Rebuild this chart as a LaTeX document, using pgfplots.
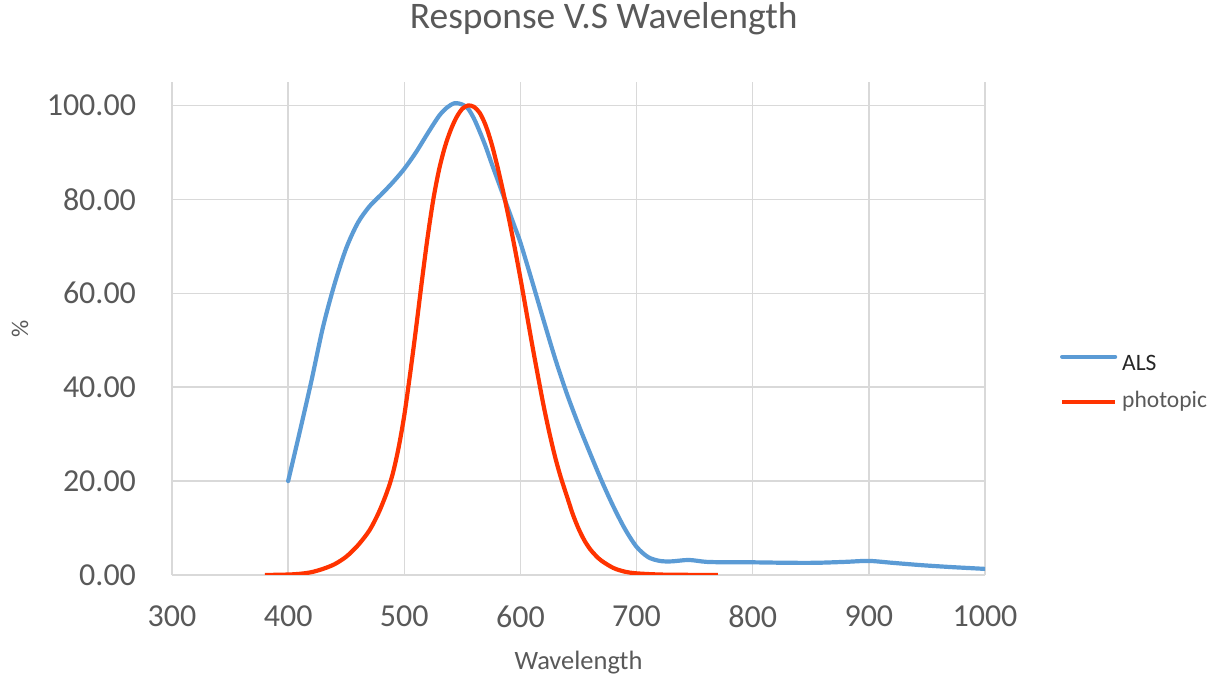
\documentclass[border=0pt]{standalone}
\usepackage{fontspec}
\setmainfont{Carlito}
\usepackage{pgfplots}
\pgfplotsset{compat=1.18}

\definecolor{alsblue}{HTML}{5B9BD5}
\definecolor{photored}{HTML}{FF3300}
\definecolor{txtgray}{HTML}{595959}
\definecolor{gridgray}{HTML}{D9D9D9}

\begin{document}
\begin{tikzpicture}[x=1pt,y=1pt]
\useasboundingbox (0,0) rectangle (1217,679);
\begin{axis}[
    at={(172pt,104pt)}, anchor=south west,
    scale only axis, width=813pt, height=493pt,
    xmin=300, xmax=1000, ymin=0, ymax=105,
    xtick={300,400,...,1000}, ytick={0,20,...,100},
    axis lines=left,
    axis line style={draw=gridgray, line width=1.5pt, -},
    grid=major,
    major grid style={draw=gridgray, line width=1.5pt},
    major tick length=0pt,
    /pgf/number format/assume math mode=true,
    tick label style={font=\fontsize{32}{38}\selectfont, text=txtgray},
    xticklabel style={/pgf/number format/1000 sep={}, yshift=-27pt},
    yticklabel style={/pgf/number format/fixed, /pgf/number format/fixed zerofill,
        /pgf/number format/precision=2, xshift=-32.5pt},
    title={Response V.S Wavelength},
    title style={at={(axis description cs:0.531,1)}, anchor=base, yshift=47pt,
        font=\fontsize{37.5}{45}\selectfont, text=txtgray},
    xlabel={Wavelength},
    xlabel style={at={(axis description cs:0.5,0)}, anchor=base, yshift=-95pt,
        font=\fontsize{26.5}{32}\selectfont, text=txtgray},
    ylabel={\%},
    ylabel style={at={(axis description cs:-0.187,0.5)}, anchor=center,
        font=\fontsize{24}{29}\selectfont, text=txtgray},
    legend cell align=left,
    legend image code/.code={\draw[#1] (0pt,0pt) -- (53pt,0pt);},
    legend style={at={(axis description cs:1.0923,0.464)}, anchor=north west,
        draw=none, fill=none, inner sep=0pt, outer sep=0pt,
        row sep=24pt, column sep=5pt,
        font=\fontsize{23.5}{28}\selectfont,
        nodes={text=txtgray, inner sep=0pt, text height=16pt, text depth=5pt}},
]
\addplot[color=alsblue, line width=4.2pt, smooth, tension=0.5, line join=round, line cap=round]
    coordinates {
        (400,20.0)(410,30.5)(420,41.3)(430,52.8)(440,62.0)(450,69.6)(460,75.0)
        (470,78.5)(480,81.0)(490,83.6)(500,86.5)(510,90.0)(520,94.0)(530,97.8)
        (537,99.6)(543.5,100.5)(550,100.2)(555,99.3)(560,97.2)(565,94.4)
        (570,91.3)(575,87.8)(580,84.4)(585,81.0)(590,77.6)(595,74.2)(600,70.8)
        (610,62.6)(620,54.2)(630,46.0)(640,38.6)(650,32.0)(660,25.9)(670,20.0)
        (680,14.6)(690,9.8)(700,6.0)(710,3.8)(720,3.0)(730,2.9)(745,3.2)
        (760,2.8)(780,2.7)(800,2.7)(830,2.6)(855,2.6)(880,2.8)(900,3.0)
        (920,2.6)(945,2.1)(970,1.7)(1000,1.3)
    };
    \addlegendentry{\raisebox{-8.5pt}{\textcolor{black!85}{ALS}}}
\addplot[color=photored, line width=4.2pt, smooth, tension=0.5, line join=round]
    coordinates {
        (380,0)(400,0.1)(410,0.25)(420,0.6)(430,1.3)(440,2.3)(450,3.9)(460,6.3)
        (470,9.5)(478,13.3)(485,17.6)(490,21.5)(495,27.0)(500,34.0)(505,42.8)
        (510,52.3)(515,62.3)(520,71.8)(525,80.0)(530,86.4)(535,91.2)(540,94.8)
        (545,97.5)(550,99.3)(555,100)(560,99.7)(565,98.4)(570,95.8)(575,92.0)
        (580,87.2)(585,81.8)(590,76.0)(595,69.8)(600,63.2)(605,56.2)(610,49.2)
        (615,42.5)(620,36.0)(625,30.2)(630,25.0)(635,20.6)(640,16.8)(645,13.0)
        (650,9.9)(655,7.4)(660,5.5)(665,4.1)(670,3.0)(680,1.5)(690,0.7)
        (700,0.35)(720,0.1)(745,0.03)(770,0)
    };
    \addlegendentry{photopic}
\end{axis}
\end{tikzpicture}
\end{document}
